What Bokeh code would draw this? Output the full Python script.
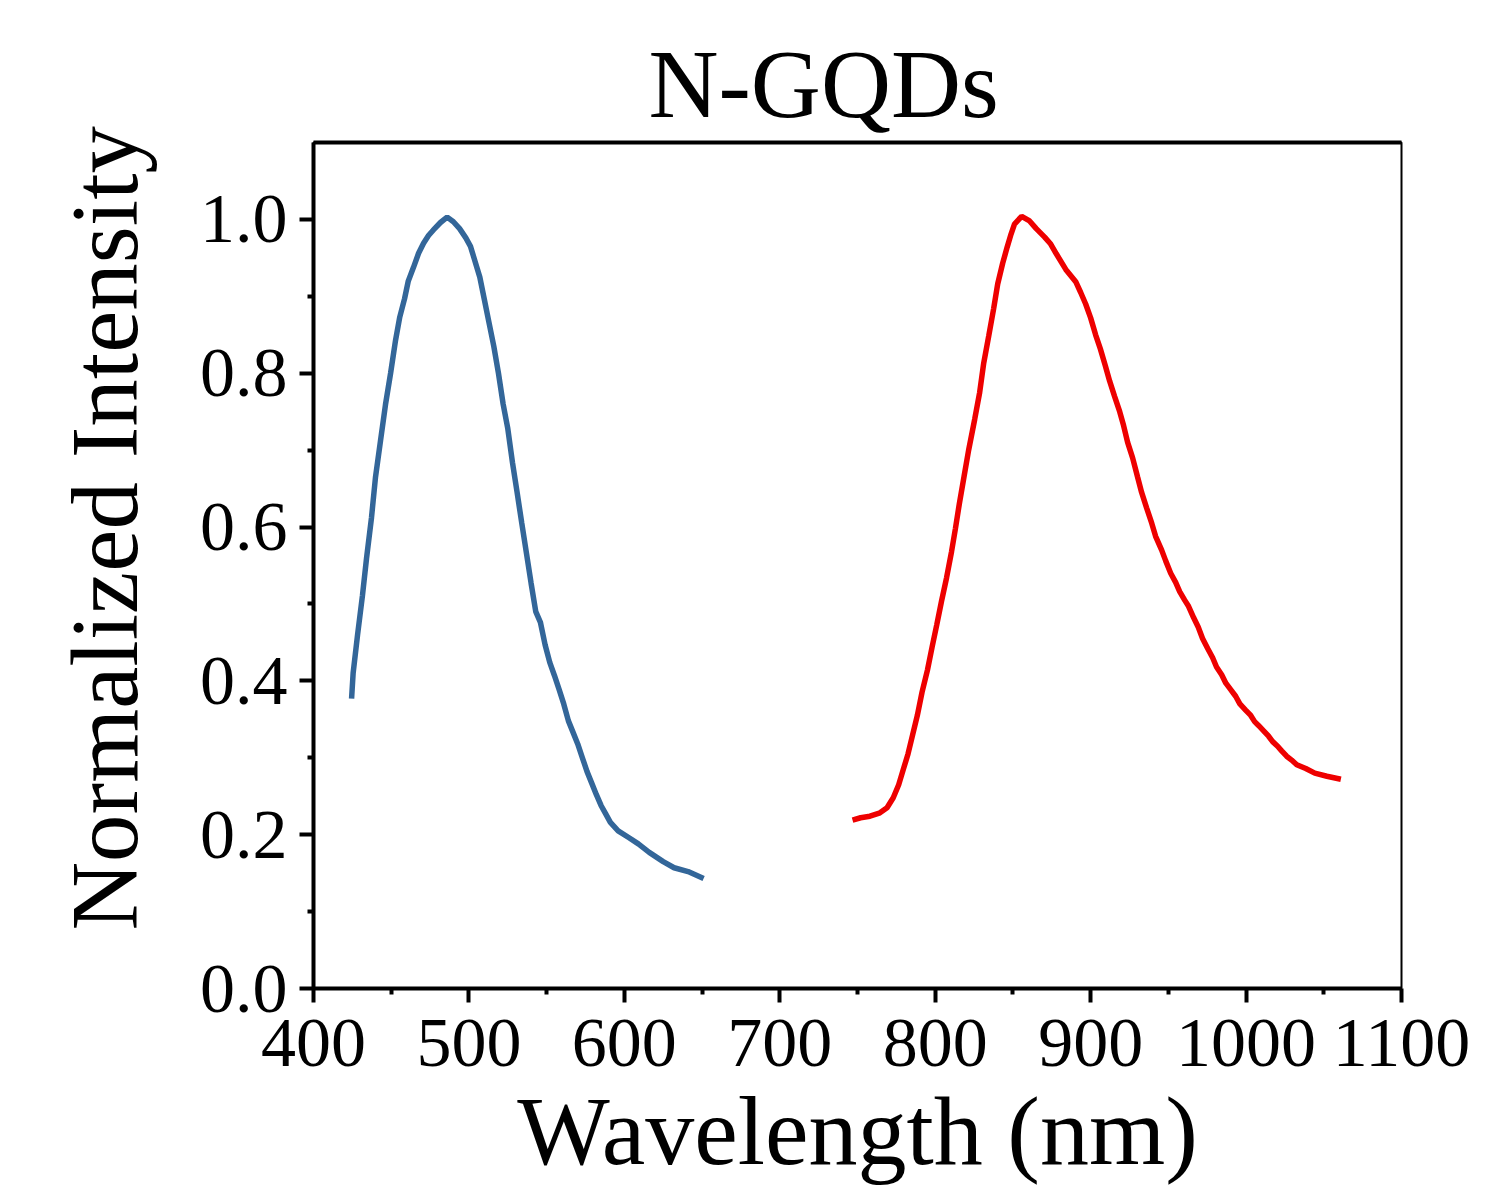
from bokeh.plotting import figure
from bokeh.models import FixedTicker, PrintfTickFormatter, Range1d, Title, LinearAxis
from bokeh.embed import file_html
from bokeh.resources import INLINE

# Blue emission curve (N-GQDs, visible)
blue_wl = [424.5, 425.5, 428.3, 431.5, 434.1, 437.3, 439.9, 443.1, 446.3, 449.6, 452.8, 455.5,
           458.6, 461.0, 464.4, 467.6, 470.8, 474.0, 477.0, 481.7, 486.0, 490.0, 494.0, 498.0,
           501.0, 504.0, 507.0, 510.0, 513.0, 516.0, 519.0, 522.0, 525.0, 528.0, 531.0, 534.0,
           537.0, 540.0, 543.0, 546.0, 549.0, 552.0, 555.0, 558.0, 561.0, 564.0, 567.0, 570.0,
           573.0, 576.0, 579.0, 582.0, 585.0, 588.0, 591.0, 596.0, 603.0, 609.0, 616.0, 625.0,
           632.0, 641.0, 651.0]
blue_int = [0.377, 0.41, 0.459, 0.511, 0.559, 0.612, 0.665, 0.712, 0.759, 0.80, 0.843, 0.873,
            0.897, 0.92, 0.938, 0.956, 0.969, 0.979, 0.986, 0.996, 1.003, 0.997, 0.988, 0.976,
            0.965, 0.945, 0.925, 0.895, 0.865, 0.835, 0.80, 0.76, 0.728, 0.684, 0.645, 0.605,
            0.566, 0.527, 0.49, 0.476, 0.447, 0.424, 0.407, 0.389, 0.37, 0.348, 0.333, 0.318,
            0.30, 0.282, 0.267, 0.252, 0.238, 0.227, 0.216, 0.205, 0.196, 0.188, 0.177, 0.165,
            0.157, 0.152, 0.143]

# Red emission curve (N-GQDs, NIR)
red_wl = [746.8, 752.0, 758.0, 764.0, 769.0, 773.0, 776.5, 779.5, 782.5, 785.5, 788.5, 791.5,
          795.0, 798.0, 801.0, 804.0, 807.3, 810.5, 813.0, 815.5, 818.5, 821.5, 825.4, 828.6,
          831.2, 834.4, 837.6, 840.2, 843.4, 846.3, 848.8, 851.0, 855.6, 860.7, 865.0, 870.4,
          874.3, 878.0, 884.0, 890.4, 893.6, 896.8, 900.0, 903.2, 906.2, 909.4, 912.2, 915.4,
          918.7, 921.2, 923.8, 927.0, 930.2, 932.8, 936.0, 939.3, 941.8, 945.7, 948.3, 951.5,
          954.7, 957.3, 960.5, 963.0, 966.3, 969.2, 972.0, 975.3, 978.5, 981.0, 984.3, 987.0,
          990.0, 993.3, 996.0, 999.7, 1003.0, 1005.5, 1008.0, 1011.3, 1014.5, 1017.1, 1020.3,
          1022.9, 1026.1, 1029.3, 1032.6, 1038.4, 1044.2, 1052.0, 1061.0]
red_int = [0.219, 0.222, 0.224, 0.228, 0.235, 0.248, 0.265, 0.285, 0.305, 0.33, 0.355, 0.385,
           0.414, 0.444, 0.473, 0.503, 0.534, 0.568, 0.598, 0.63, 0.665, 0.70, 0.74, 0.775,
           0.813, 0.848, 0.884, 0.916, 0.943, 0.964, 0.981, 0.994, 1.004, 0.998, 0.988, 0.977,
           0.968, 0.955, 0.935, 0.919, 0.905, 0.89, 0.872, 0.85, 0.832, 0.81, 0.79, 0.77,
           0.75, 0.732, 0.71, 0.69, 0.665, 0.645, 0.625, 0.605, 0.588, 0.57, 0.556, 0.54,
           0.528, 0.516, 0.505, 0.497, 0.482, 0.47, 0.455, 0.442, 0.43, 0.418, 0.408, 0.397,
           0.389, 0.38, 0.37, 0.362, 0.355, 0.347, 0.342, 0.335, 0.328, 0.321, 0.315,
           0.309, 0.302, 0.297, 0.291, 0.286, 0.28, 0.276, 0.272]

x_ticks = [400, 500, 600, 700, 800, 900, 1000, 1100]
y_ticks = [0.0, 0.2, 0.4, 0.6, 0.8, 1.0]

FONT = "Liberation Serif"

p = figure(width=1485, height=1195, output_backend="svg", toolbar_location=None,
           x_range=Range1d(400, 1100), y_range=Range1d(0, 1.1),
           min_border_left=313, min_border_right=84, min_border_top=142, min_border_bottom=207)

p.title = Title(text="N-GQDs", text_font=FONT, text_font_size="97px", text_font_style="normal",
                align="left", offset=335, text_color="black", standoff=9)

p.add_layout(Title(text="Normalized Intensity", text_font=FONT, text_font_size="95px",
                   text_font_style="normal", align="left", offset=58, text_color="black",
                   standoff=78), "left")

p.line(blue_wl, blue_int, line_color="#336699", line_width=5.5)
p.line(red_wl, red_int, line_color="#ee0000", line_width=5.5)

p.grid.visible = False
p.background_fill_color = "white"
p.border_fill_color = "white"
p.outline_line_color = "black"
p.outline_line_width = 2
p.outline_line_alpha = 1.0

for ax in (p.xaxis[0], p.yaxis[0]):
    ax.axis_line_width = 4
    ax.axis_line_color = "black"
    ax.major_tick_line_width = 4
    ax.minor_tick_line_width = 4
    ax.major_tick_in = 0
    ax.minor_tick_in = 0
    ax.major_tick_out = 14
    ax.minor_tick_out = 6
    ax.major_label_text_font = FONT
    ax.major_label_text_font_size = "70px"
    ax.major_label_text_color = "black"
    ax.axis_label_text_font = FONT
    ax.axis_label_text_font_style = "normal"
    ax.axis_label_text_color = "black"

p.xaxis[0].ticker = FixedTicker(ticks=x_ticks, minor_ticks=[450, 550, 650, 750, 850, 950, 1050])
p.yaxis[0].ticker = FixedTicker(ticks=y_ticks, minor_ticks=[0.1, 0.3, 0.5, 0.7, 0.9])
p.yaxis[0].formatter = PrintfTickFormatter(format="%.1f")
p.xaxis[0].major_label_standoff = 17
p.yaxis[0].major_label_standoff = 12

p.xaxis[0].axis_label = "Wavelength (nm)"
p.xaxis[0].axis_label_text_font_size = "98px"
p.xaxis[0].axis_label_standoff = 8

top_axis = LinearAxis(ticker=FixedTicker(ticks=[]), axis_line_width=4, axis_line_color="black",
                      major_tick_out=0, minor_tick_out=0, major_label_text_font_size="0px")
p.add_layout(top_axis, "above")

open("out.html", "w").write(file_html(p, INLINE))
